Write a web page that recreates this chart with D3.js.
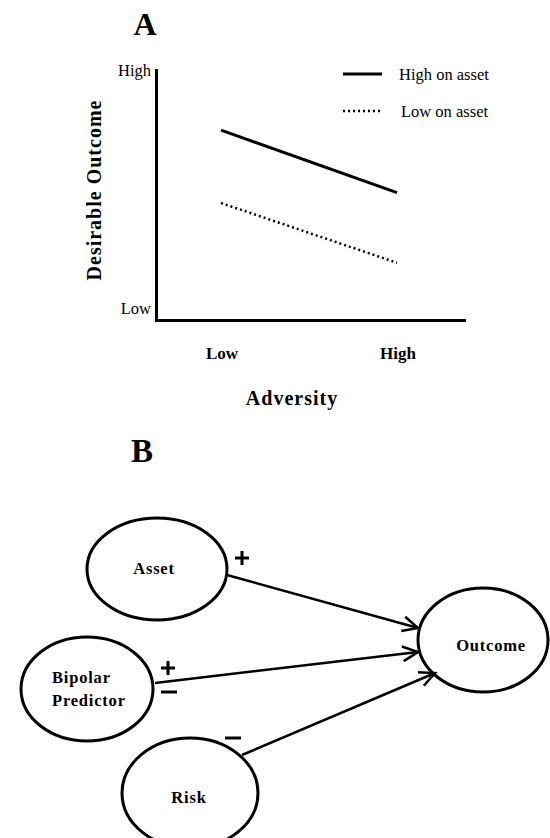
<!DOCTYPE html>
<html><head><meta charset="utf-8">
<script src="https://cdn.jsdelivr.net/npm/d3@7/dist/d3.min.js"></script>
<style>
html,body{margin:0;padding:0;background:#fff;}
svg{display:block;}
text{font-family:"Liberation Serif","Times New Roman",serif;fill:#000;}
</style></head>
<body>
<script>
// ---------- Panel A data ----------
const adversityLevels = ["Low", "High"];
const outcomeTicks = ["Low", "High"];
const seriesNames = ["High on asset", "Low on asset"];
const highOnAsset = [7.3, 4.9];
const lowOnAsset = [4.5, 2.2];

// ---------- Panel B data ----------
const nodeNames = ["Asset", "Bipolar Predictor", "Risk", "Outcome"];
const edgeFrom = ["Asset", "Bipolar Predictor", "Risk"];
const edgeTo = ["Outcome", "Outcome", "Outcome"];
const edgeSigns = [["+"], ["+", "−"], ["−"]];

const W = 550, H = 838;
const svg = d3.select("body").append("svg").attr("width", W).attr("height", H);

// ===== Panel A =====
svg.append("text").attr("x", 145).attr("y", 35).attr("text-anchor", "middle")
  .attr("font-size", 32).attr("font-weight", "bold").text("A");

const x = d3.scalePoint().domain(adversityLevels).range([221, 397]);
const y = d3.scaleLinear().domain([0, 10]).range([320, 60]);
const yCat = d3.scalePoint().domain(outcomeTicks).range([y(0.45), y(9.6)]);

// axes lines
svg.append("line").attr("x1", 156.5).attr("x2", 156.5).attr("y1", y(9.65)).attr("y2", y(0) + 1.5)
  .attr("stroke", "#000").attr("stroke-width", 3);
svg.append("line").attr("x1", 155).attr("x2", 466).attr("y1", 320.5).attr("y2", 320.5)
  .attr("stroke", "#000").attr("stroke-width", 3);

// y tick labels
svg.selectAll("text.ytick").data(outcomeTicks).enter().append("text")
  .attr("class", "ytick").attr("x", 151).attr("y", d => yCat(d) + 6)
  .attr("text-anchor", "end").attr("font-size", 16.5).text(d => d);

// x tick labels
svg.selectAll("text.xtick").data(adversityLevels).enter().append("text")
  .attr("class", "xtick").attr("x", d => x(d) + 1).attr("y", 359)
  .attr("text-anchor", "middle").attr("font-size", 17).attr("font-weight", "bold").text(d => d);

// axis titles
svg.append("text").attr("x", 292).attr("y", 405).attr("text-anchor", "middle")
  .attr("font-size", 20).attr("font-weight", "bold").attr("letter-spacing", 1).text("Adversity");
svg.append("text").attr("transform", "translate(101,190) rotate(-90)").attr("text-anchor", "middle")
  .attr("font-size", 20).attr("font-weight", "bold").attr("letter-spacing", 1).text("Desirable Outcome");

// lines
const line = d3.line().x((d, i) => x(adversityLevels[i])).y(d => y(d));
svg.append("path").datum(highOnAsset).attr("d", line).attr("fill", "none")
  .attr("stroke", "#000").attr("stroke-width", 3);
svg.append("path").datum(lowOnAsset).attr("d", line).attr("fill", "none")
  .attr("stroke", "#000").attr("stroke-width", 2.5).attr("stroke-dasharray", "2,3");

// legend
const legY = [74, 111];
seriesNames.forEach((name, i) => {
  svg.append("line").attr("x1", 343).attr("x2", 382).attr("y1", legY[i]).attr("y2", legY[i])
    .attr("stroke", "#000").attr("stroke-width", i === 0 ? 3 : 2.5)
    .attr("stroke-dasharray", i === 0 ? null : "2,3");
  svg.append("text").attr("x", i === 0 ? 399 : 401).attr("y", legY[i] + 6)
    .attr("font-size", 16.5).text(name);
});

// ===== Panel B =====
svg.append("text").attr("x", 142).attr("y", 462).attr("text-anchor", "middle")
  .attr("font-size", 33).attr("font-weight", "bold").text("B");

const layout = {
  "Asset": {cx: 157, cy: 569, rx: 70, ry: 51},
  "Bipolar Predictor": {cx: 87, cy: 689, rx: 66, ry: 52},
  "Risk": {cx: 190, cy: 793, rx: 68, ry: 55},
  "Outcome": {cx: 483, cy: 640, rx: 65, ry: 52}
};

nodeNames.forEach(n => {
  const L = layout[n];
  svg.append("ellipse").attr("cx", L.cx).attr("cy", L.cy).attr("rx", L.rx).attr("ry", L.ry)
    .attr("fill", "none").attr("stroke", "#000").attr("stroke-width", 3);
});

// node labels
const labelPos = {
  "Asset": [{t: "Asset", x: 154, y: 574, a: "middle"}],
  "Bipolar Predictor": [{t: "Bipolar", x: 52, y: 683, a: "start"}, {t: "Predictor", x: 52, y: 706, a: "start"}],
  "Risk": [{t: "Risk", x: 189, y: 803, a: "middle"}],
  "Outcome": [{t: "Outcome", x: 491, y: 651, a: "middle"}]
};
nodeNames.forEach(n => {
  labelPos[n].forEach(l => {
    svg.append("text").attr("x", l.x).attr("y", l.y).attr("text-anchor", l.a)
      .attr("font-size", 16.5).attr("font-weight", "bold").attr("letter-spacing", 0.8).text(l.t);
  });
});

// edges
const edgeGeom = [
  {x1: 227, y1: 575, x2: 418, y2: 628},
  {x1: 155, y1: 683, x2: 418, y2: 652},
  {x1: 242, y1: 755, x2: 435, y2: 673}
];
edgeFrom.forEach((f, i) => {
  const g = edgeGeom[i];
  svg.append("line").attr("x1", g.x1).attr("y1", g.y1).attr("x2", g.x2).attr("y2", g.y2)
    .attr("stroke", "#000").attr("stroke-width", 2.5);
  const ang = Math.atan2(g.y2 - g.y1, g.x2 - g.x1);
  const len = 17, spread = 0.45;
  const p1 = [g.x2 - len * Math.cos(ang - spread), g.y2 - len * Math.sin(ang - spread)];
  const p2 = [g.x2 - len * Math.cos(ang + spread), g.y2 - len * Math.sin(ang + spread)];
  svg.append("path").attr("d", `M${p1[0]},${p1[1]}L${g.x2},${g.y2}L${p2[0]},${p2[1]}`)
    .attr("fill", "none").attr("stroke", "#000").attr("stroke-width", 2.5);
});

// signs
const signPos = [
  [{x: 242, y: 558}],
  [{x: 168, y: 668}, {x: 169, y: 692}],
  [{x: 233, y: 738}]
];
edgeSigns.forEach((signs, i) => {
  signs.forEach((s, j) => {
    const p = signPos[i][j];
    if (s === "+") {
      svg.append("path").attr("d", `M${p.x - 7},${p.y}H${p.x + 7}M${p.x},${p.y - 7}V${p.y + 7}`)
        .attr("stroke", "#000").attr("stroke-width", 3);
    } else {
      svg.append("path").attr("d", `M${p.x - 8},${p.y}H${p.x + 8}`)
        .attr("stroke", "#000").attr("stroke-width", 3);
    }
  });
});
</script>
</body></html>
